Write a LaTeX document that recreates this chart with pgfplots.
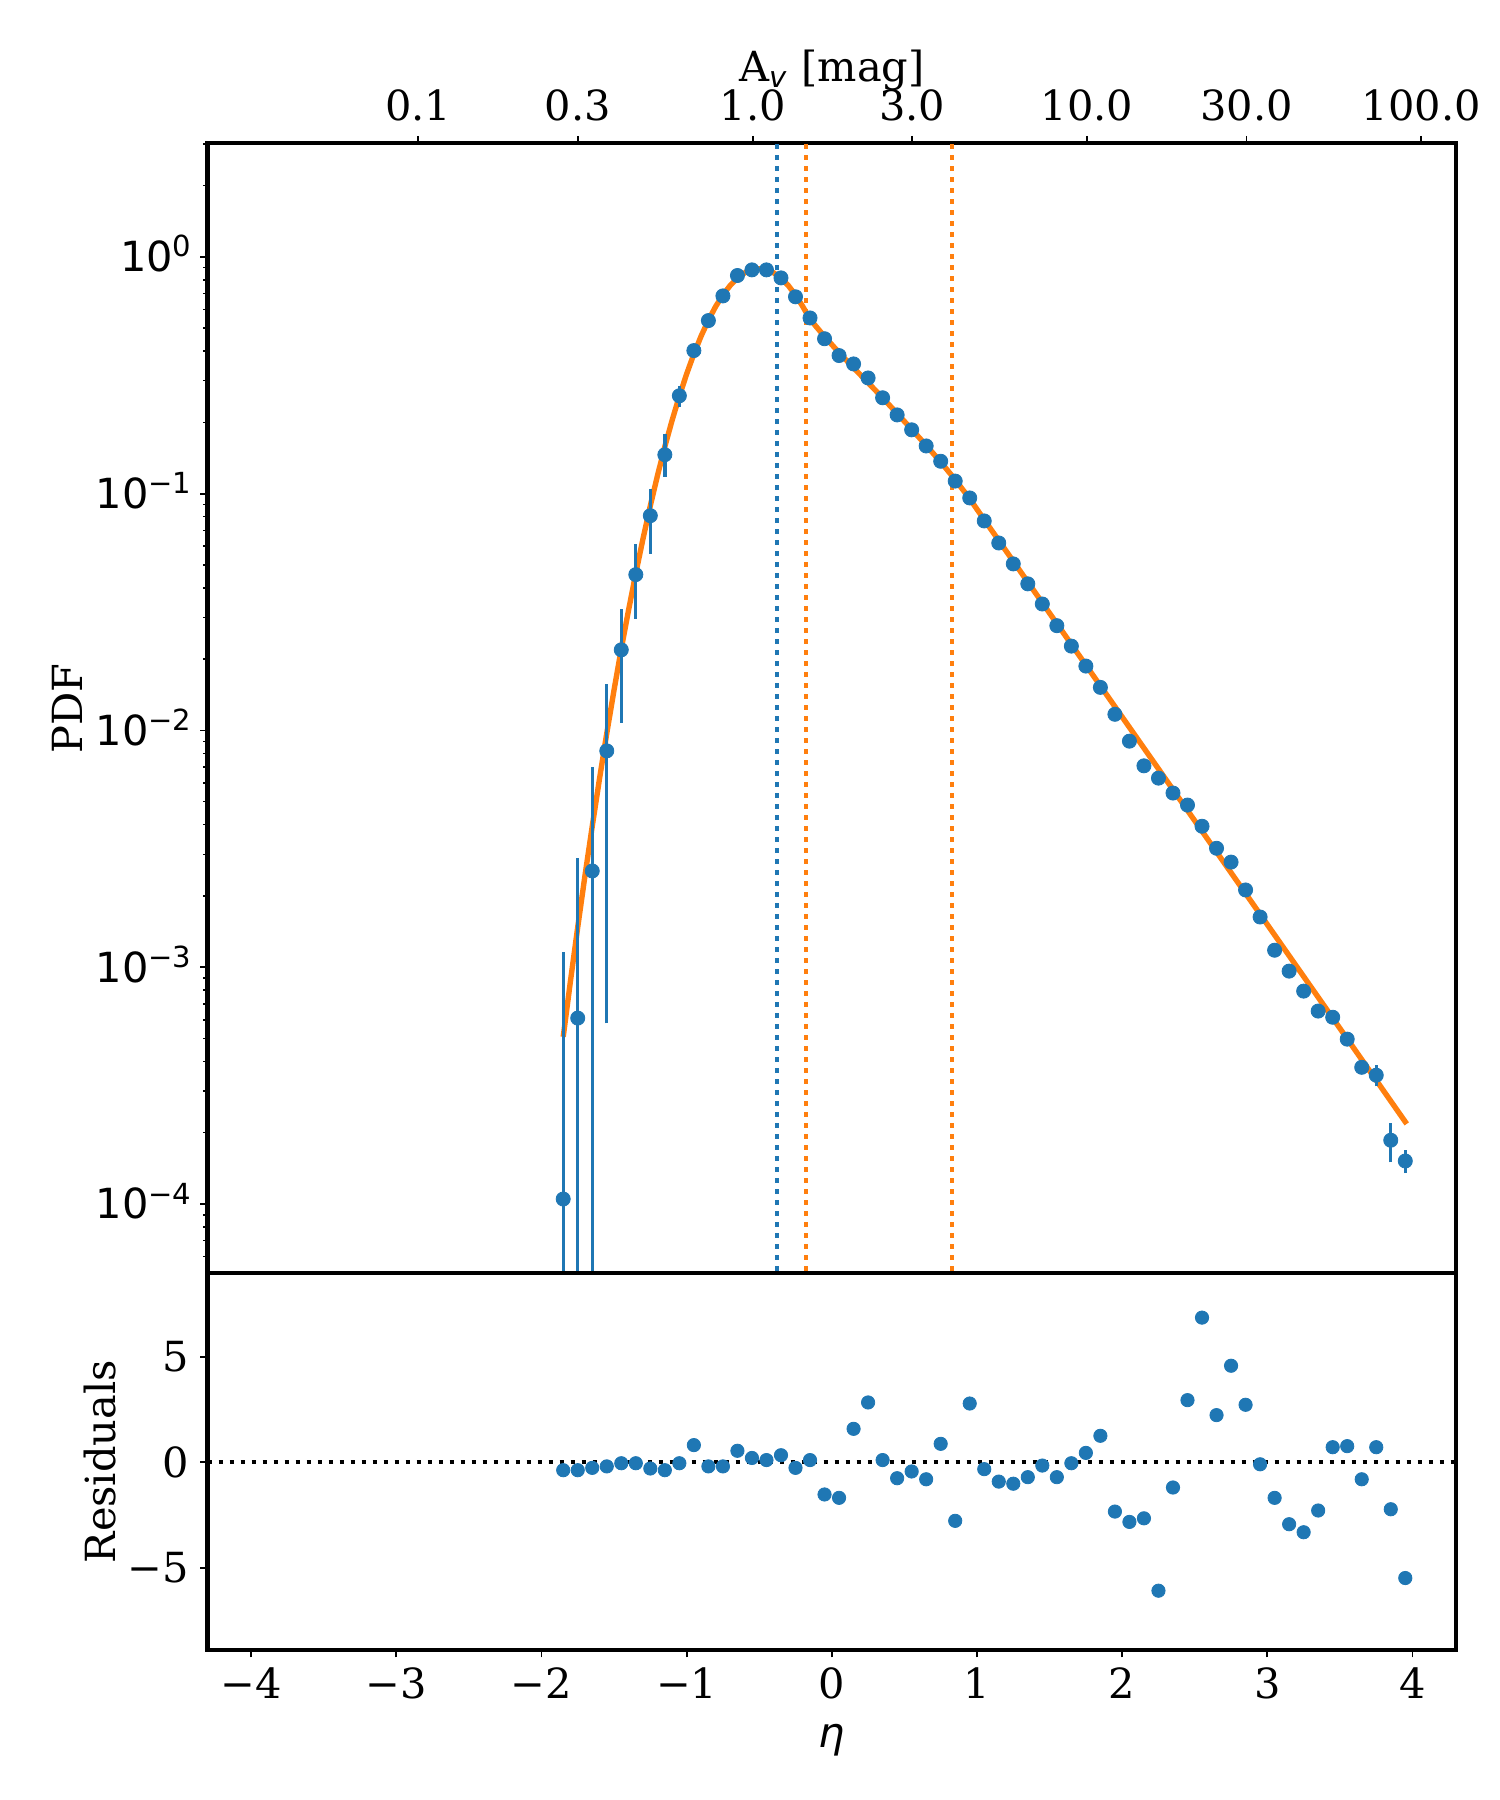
\documentclass[border=0pt]{standalone}
\usepackage{fontspec}
\setmainfont{DejaVu Serif}
\newfontfamily\mt{DejaVu Sans}
\usepackage{pgfplots}
\pgfplotsset{compat=1.18}
\definecolor{tabblue}{HTML}{1F77B4}
\definecolor{taborange}{HTML}{FF7F0E}
\newcommand{\tp}[1]{{\mt 10\raisebox{3.6pt}{\fontsize{7}{8}\selectfont #1}}}
\pgfplotsset{
  rc/.style={
    scale only axis, width=4.162in, anchor=south west,
    xmin=-4.3, xmax=4.3,
    axis line style={line width=1.0pt},
    tick align=outside,
    major tick length=1.75pt, minor tick length=1pt,
    major tick style={line width=0.45pt, black},
    minor tick style={line width=0.35pt, black},
    every tick label/.append style={inner sep=0pt, font=\fontsize{10}{12}\selectfont},
    label style={font=\fontsize{10}{12}\selectfont},
  },
  dotl/.style={line width=1pt, dash pattern=on 1pt off 1.65pt},
  ebar/.style={tabblue, line width=0.8pt, forget plot},
}
\begin{document}
\begin{tikzpicture}
\path[use as bounding box] (0,0) rectangle (5in,6in);
% ---------------- main panel ----------------
\begin{axis}[rc, at={(0.6917in,1.7557in)}, height=3.767in,
  ymode=log, ymin=5.1e-5, ymax=3.02,
  xtick pos=right, xticklabel pos=right, ytick pos=left, yticklabel pos=left,
  xtick={-2.848,-1.749,-0.545,0.554,1.758,2.856,4.060},
  xticklabels={0.1,0.3,1.0,3.0,10.0,30.0,100.0},
  xticklabel style={anchor=base, yshift=3.65pt},
  ytick={1e-4,1e-3,1e-2,1e-1,1},
  yticklabels={\tp{−4},\tp{−3},\tp{−2},\tp{−1},\tp{0}},
  yticklabel style={anchor=base east, xshift=-1.95pt, yshift=-3.6pt},
  minor ytick={6e-5,7e-5,8e-5,9e-5,2e-4,3e-4,4e-4,5e-4,6e-4,7e-4,8e-4,9e-4,2e-3,3e-3,4e-3,5e-3,6e-3,7e-3,8e-3,9e-3,2e-2,3e-2,4e-2,5e-2,6e-2,7e-2,8e-2,9e-2,0.2,0.3,0.4,0.5,0.6,0.7,0.8,0.9,2,3},
  xlabel={A\textsubscript{\mt\itshape v} [mag]},
  xlabel style={at={([yshift=14.8pt]axis description cs:0.5,1)}, anchor=base},
  ylabel={PDF},
  ylabel style={at={([xshift=-33.7pt]axis description cs:0,0.5)}, anchor=center},
]
% vertical dotted lines
\addplot[tabblue, dotl] coordinates {(-0.377,1e-6) (-0.377,10)};
\addplot[taborange, dotl] coordinates {(-0.18,1e-6) (-0.18,10)};
\addplot[taborange, dotl] coordinates {(0.83,1e-6) (0.83,10)};
% fitted model
\addplot[taborange, line width=1.3pt] coordinates {
(-1.85,5.08e-4) (-1.80,8.75e-4) (-1.75,1.476e-3) (-1.70,2.44e-3) (-1.65,3.94e-3)
(-1.60,6.25e-3) (-1.55,9.72e-3) (-1.50,0.0148) (-1.45,0.0221) (-1.40,0.0322)
(-1.35,0.0461) (-1.30,0.0647) (-1.25,0.0889) (-1.20,0.1197) (-1.15,0.158)
(-1.10,0.204) (-1.05,0.258) (-1.00,0.320) (-0.95,0.389) (-0.90,0.463)
(-0.85,0.540) (-0.80,0.617) (-0.75,0.690) (-0.70,0.757) (-0.65,0.813)
(-0.60,0.856) (-0.55,0.883) (-0.50,0.891) (-0.45,0.883) (-0.40,0.856)
(-0.35,0.813) (-0.30,0.757) (-0.25,0.690) (-0.20,0.617) (-0.15,0.545)
(-0.10,0.501) (-0.05,0.461) (0.00,0.426) (0.05,0.394) (0.15,0.340)
(0.25,0.294) (0.35,0.254) (0.45,0.218) (0.55,0.187) (0.65,0.160)
(0.75,0.136) (0.85,0.1146) (0.95,0.0951) (1.05,0.0776) (2.0,0.01140)
(3.0,0.001514) (3.96,2.18e-4)
};
% error bars
\addplot[ebar] coordinates {(-1.85,1e-6) (-1.85,1.16e-3)};
\addplot[ebar] coordinates {(-1.75,1e-6) (-1.75,2.9e-3)};
\addplot[ebar] coordinates {(-1.65,1e-6) (-1.65,7.0e-3)};
\addplot[ebar] coordinates {(-1.55,5.8e-4) (-1.55,0.0157)};
\addplot[ebar] coordinates {(-1.45,0.0108) (-1.45,0.0327)};
\addplot[ebar] coordinates {(-1.35,0.0296) (-1.35,0.0615)};
\addplot[ebar] coordinates {(-1.25,0.0558) (-1.25,0.105)};
\addplot[ebar] coordinates {(-1.15,0.118) (-1.15,0.178)};
\addplot[ebar] coordinates {(-1.05,0.232) (-1.05,0.286)};
\addplot[ebar] coordinates {(3.75,3.14e-4) (3.75,3.86e-4)};
\addplot[ebar] coordinates {(3.85,1.50e-4) (3.85,2.19e-4)};
\addplot[ebar] coordinates {(3.95,1.35e-4) (3.95,1.69e-4)};
% data
\addplot[tabblue, only marks, mark=*, mark size=1.7pt, mark options={draw=tabblue, fill=tabblue, line width=0.2pt}] coordinates {
(-1.85,1.05e-4) (-1.75,6.1e-4) (-1.65,2.55e-3) (-1.55,8.2e-3) (-1.45,0.0219)
(-1.35,0.0455) (-1.25,0.0807) (-1.15,0.146) (-1.05,0.259) (-0.95,0.402)
(-0.85,0.538) (-0.75,0.684) (-0.65,0.834) (-0.55,0.881) (-0.45,0.881)
(-0.35,0.815) (-0.25,0.678) (-0.15,0.552) (-0.05,0.451) (0.05,0.383)
(0.15,0.353) (0.25,0.308) (0.35,0.254) (0.45,0.215) (0.55,0.186)
(0.65,0.159) (0.75,0.137) (0.85,0.113) (0.95,0.0959) (1.05,0.0767)
(1.15,0.0619) (1.25,0.0505) (1.35,0.0416) (1.45,0.0342) (1.55,0.0277)
(1.65,0.0227) (1.75,0.0187) (1.85,0.0152) (1.95,0.0117) (2.05,0.00901)
(2.15,0.00709) (2.25,0.00629) (2.35,0.00544) (2.45,0.00484) (2.55,0.00394)
(2.65,0.00318) (2.75,0.00278) (2.85,0.00212) (2.95,0.00163) (3.05,0.00118)
(3.15,0.000963) (3.25,0.000793) (3.35,0.000653) (3.45,0.000615) (3.55,0.000497)
(3.65,0.000378) (3.75,0.000350) (3.85,0.000186) (3.95,0.000152)
};
\end{axis}
% ---------------- residual panel ----------------
\begin{axis}[rc, at={(0.6917in,0.5in)}, height=1.2556in,
  ymin=-8.9, ymax=8.95,
  xtick pos=left, xticklabel pos=left, ytick pos=left, yticklabel pos=left,
  xtick={-4,-3,-2,-1,0,1,2,3,4},
  xticklabels={−4,−3,−2,−1,0,1,2,3,4},
  xticklabel style={anchor=north, yshift=-2.25pt},
  ytick={-5,0,5},
  yticklabels={−5,0,5},
  yticklabel style={anchor=base east, xshift=-2.55pt, yshift=-3.6pt},
  xlabel={{\mt\itshape η}},
  xlabel style={at={([yshift=-23.5pt]axis description cs:0.5,0)}, anchor=base},
  ylabel={Residuals},
  ylabel style={at={([xshift=-25.8pt]axis description cs:0,0.5)}, anchor=center},
]
\addplot[black, dotl] coordinates {(-4.3,0) (4.3,0)};
\addplot[tabblue, only marks, mark=*, mark size=1.6pt, mark options={draw=tabblue, fill=tabblue, line width=0.2pt}] coordinates {
(-1.85,-0.38) (-1.75,-0.38) (-1.65,-0.27) (-1.55,-0.20) (-1.45,-0.05)
(-1.35,-0.05) (-1.25,-0.30) (-1.15,-0.38) (-1.05,-0.05) (-0.95,0.81)
(-0.85,-0.20) (-0.75,-0.20) (-0.65,0.54) (-0.55,0.20) (-0.45,0.10)
(-0.35,0.33) (-0.25,-0.27) (-0.15,0.10) (-0.05,-1.53) (0.05,-1.69)
(0.15,1.58) (0.25,2.83) (0.35,0.10) (0.45,-0.76) (0.55,-0.44)
(0.65,-0.81) (0.75,0.87) (0.85,-2.78) (0.95,2.78) (1.05,-0.33)
(1.15,-0.92) (1.25,-1.02) (1.35,-0.71) (1.45,-0.16) (1.55,-0.71)
(1.65,-0.05) (1.75,0.44) (1.85,1.25) (1.95,-2.34) (2.05,-2.83)
(2.15,-2.66) (2.25,-6.09) (2.35,-1.20) (2.45,2.94) (2.55,6.85)
(2.65,2.23) (2.75,4.57) (2.85,2.72) (2.95,-0.10) (3.05,-1.69)
(3.15,-2.94) (3.25,-3.32) (3.35,-2.29) (3.45,0.71) (3.55,0.76)
(3.65,-0.81) (3.75,0.71) (3.85,-2.23) (3.95,-5.49)
};
\end{axis}
\end{tikzpicture}
\end{document}
